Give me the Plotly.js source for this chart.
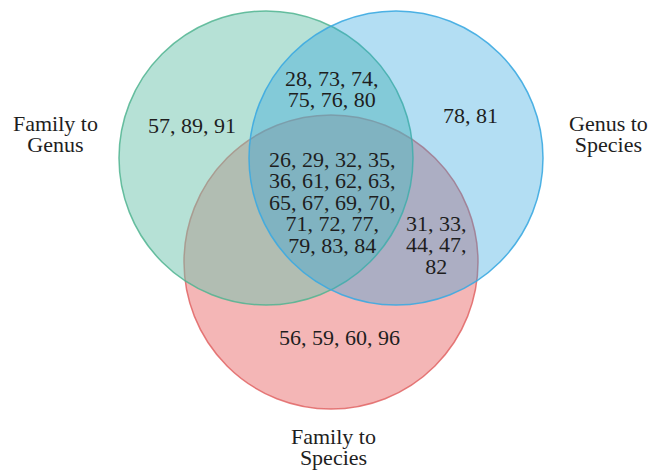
<!DOCTYPE html>
<html>
<head>
<meta charset="utf-8">
<script src="https://cdn.plot.ly/plotly-3.0.1.min.js"></script>
<style>html,body{margin:0;padding:0;background:#fff;}#chart{width:650px;height:471px;}</style>
</head>
<body>
<div id="chart"></div>
<script>
// ---- data ----
const setNames = ["Family to Genus", "Genus to Species", "Family to Species"];
const setLabelLines = [["Family to", "Genus"], ["Genus to", "Species"], ["Family to", "Species"]];
const onlyFamilyGenus = ["57, 89, 91"];
const onlyGenusSpecies = ["78, 81"];
const onlyFamilySpecies = ["56, 59, 60, 96"];
const familyGenusAndGenusSpecies = ["28, 73, 74,", "75, 76, 80"];
const genusSpeciesAndFamilySpecies = ["31, 33,", "44, 47,", "82"];
const familyGenusAndFamilySpecies = [];
const allThree = ["26, 29, 32, 35,", "36, 61, 62, 63,", "65, 67, 69, 70,", "71, 72, 77,", "79, 83, 84"];

// ---- geometry / style (not data) ----
const circles = [
  {cx: 331, cy: 262, r: 147, fill: "rgba(233,109,109,0.5)", line: "rgba(224,100,100,0.85)"}, // Family to Species
  {cx: 266, cy: 158, r: 147, fill: "rgba(109,195,173,0.5)", line: "rgba(80,180,145,0.85)"},   // Family to Genus
  {cx: 396, cy: 158, r: 147, fill: "rgba(38,161,221,0.35)", line: "rgba(60,170,225,0.9)"}     // Genus to Species
];
const lineStep = 21.4;     // px between text lines
const textSize = 22;       // px glyph size
// block centres (x, y of the middle of the block)
const blocks = [
  {lines: setLabelLines[0], x: 55, y: 133.5},
  {lines: setLabelLines[1], x: 608, y: 133.5},
  {lines: setLabelLines[2], x: 333, y: 447},
  {lines: onlyFamilyGenus, x: 192, y: 125},
  {lines: onlyGenusSpecies, x: 470, y: 115},
  {lines: onlyFamilySpecies, x: 339, y: 337},
  {lines: familyGenusAndGenusSpecies, x: 332, y: 89},
  {lines: genusSpeciesAndFamilySpecies, x: 436, y: 245},
  {lines: familyGenusAndFamilySpecies, x: 250, y: 240},
  {lines: allThree, x: 332, y: 202.5}
];

const shapes = circles.map(c => ({
  type: "circle", xref: "x", yref: "y",
  x0: c.cx - c.r, x1: c.cx + c.r, y0: c.cy - c.r, y1: c.cy + c.r,
  fillcolor: c.fill, line: {color: c.line, width: 1.5}, layer: "below"
}));

const annotations = blocks.filter(b => b.lines.length).map(b => ({
  x: b.x, y: b.y, xref: "x", yref: "y",
  text: b.lines.map(t => '<span style="font-size:' + textSize + 'px">' + t + '</span>').join("<br>"),
  showarrow: false, xanchor: "center", yanchor: "middle", align: "center",
  font: {family: "Liberation Serif, Times New Roman, serif", size: lineStep / 1.3, color: "#1e1e1e"}
}));

const layout = {
  width: 650, height: 471,
  margin: {l: 0, r: 0, t: 0, b: 0},
  paper_bgcolor: "#ffffff", plot_bgcolor: "#ffffff",
  showlegend: false,
  xaxis: {range: [0, 650], visible: false, fixedrange: true},
  yaxis: {range: [471, 0], visible: false, fixedrange: true},
  shapes: shapes,
  annotations: annotations
};

Plotly.newPlot("chart", [{x: [], y: [], type: "scatter", mode: "markers", hoverinfo: "skip"}], layout, {staticPlot: true, displayModeBar: false});
</script>
</body>
</html>
